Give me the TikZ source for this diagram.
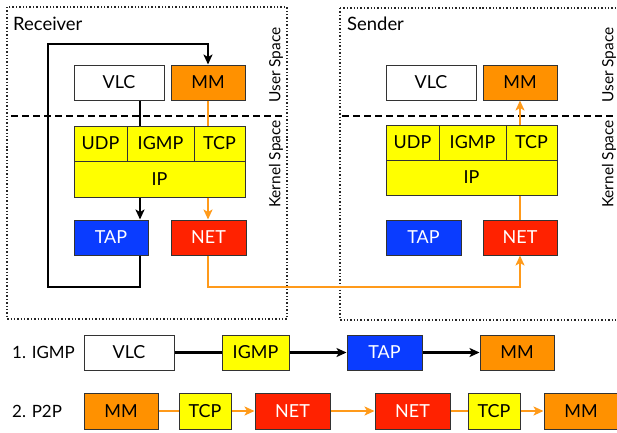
\documentclass[tikz,border=0pt]{standalone}
\usepackage{fontspec}
\setmainfont{Lato}
\usetikzlibrary{arrows.meta}
\definecolor{cyel}{HTML}{FFFF00}
\definecolor{corg}{HTML}{FF9100}
\definecolor{cblue}{HTML}{0A3CFF}
\definecolor{cred}{HTML}{FF2200}
\definecolor{cline}{HTML}{FF9A1A}
\begin{document}
\begin{tikzpicture}[x=1bp,y=-1bp,
  box/.style={draw=black!80, line width=1bp, inner sep=0pt, minimum height=35bp, font=\fontsize{18}{20}\selectfont, text=black},
  wl/.style={box, fill=white},
  yl/.style={box, fill=cyel},
  og/.style={box, fill=corg},
  bl/.style={box, fill=cblue, text=white},
  rd/.style={box, fill=cred, text=white},
  cont/.style={draw=black!85, line width=1.4bp, dotted},
  sep/.style={draw=black, line width=2.2bp, dash pattern=on 7bp off 4bp},
  blk/.style={draw=black, line width=2.5bp},
  org/.style={draw=cline, line width=2.5bp},
  tip/.style={-{Stealth[length=10bp,width=9bp,inset=2.5bp]}},
  ttl/.style={font=\fontsize{18.5}{20}\selectfont, anchor=west, inner sep=0pt},
  spc/.style={font=\fontsize{15.5}{17}\selectfont, rotate=90, inner sep=0pt},
  row/.style={font=\fontsize{17}{19}\selectfont, anchor=west, inner sep=0pt}]
\useasboundingbox (0,0) rectangle (617,432);
% containers
\draw[cont] (7,7) rectangle (287,319);
\draw[cont] (340,8) -- (630,8);
\draw[cont] (340,8) -- (340,320) -- (630,320);
\draw[sep] (11,116) -- (285,116);
\draw[sep] (342,116) -- (617,116);
\node[ttl] (trec) at (13,24) {Receiver};
\node[ttl] (tsnd) at (347,24) {Sender};
\node[spc] (us1) at (276,65) {User Space};
\node[spc] (ks1) at (276,164) {Kernel Space};
\node[spc] (us2) at (609,65) {User Space};
\node[spc] (ks2) at (609,164) {Kernel Space};
% receiver
\node[wl, minimum width=90bp] (VLCr) at (119,82.5) {VLC};
\node[og, minimum width=74bp] (MMr) at (208,82.5) {MM};
\node[yl, minimum width=53bp] (UDPr) at (100.5,143.5) {UDP};
\node[yl, minimum width=67bp] (IGMPr) at (160.5,143.5) {IGMP};
\node[yl, minimum width=51bp] (TCPr) at (219.5,143.5) {TCP};
\node[yl, minimum width=171bp, minimum height=36bp] (IPr) at (159.5,179) {IP};
\node[bl, minimum width=74bp] (TAPr) at (111,237.5) {TAP};
\node[rd, minimum width=75bp] (NETr) at (208.5,237.5) {NET};
% sender
\node[wl, minimum width=90bp] (VLCs) at (431,82.5) {VLC};
\node[og, minimum width=74bp] (MMs) at (520,82.5) {MM};
\node[yl, minimum width=53bp] (UDPs) at (412.5,142.5) {UDP};
\node[yl, minimum width=67bp] (IGMPs) at (472.5,142.5) {IGMP};
\node[yl, minimum width=51bp] (TCPs) at (531.5,142.5) {TCP};
\node[yl, minimum width=171bp] (IPs) at (471.5,177.5) {IP};
\node[bl, minimum width=75bp] (TAPs) at (423.5,237.5) {TAP};
\node[rd, minimum width=74bp] (NETs) at (520,237.5) {NET};
% receiver connectors
\coordinate (vx) at (140,0);
\coordinate (lb) at (48,287);
\coordinate (lt) at (48,44);
\draw[blk] (VLCr.south -| vx) -- (IGMPr.north -| vx);
\draw[blk, tip] (IPr.south -| vx) -- (TAPr.north -| vx);
\draw[blk, tip, line join=miter] (TAPr.south -| vx) -- (vx |- lb) -- (lb) -- (lt) -| (MMr.north);
\draw[org] (MMr.south) -- (MMr.south |- TCPr.north);
\draw[org, tip] (IPr.south -| MMr.south) -- (NETr.north -| MMr.south);
\draw[org, tip, line join=miter] (NETr.south -| MMr.south) -- (MMr.south |- lb) -| (NETs.south);
% sender connectors
\draw[org] (NETs.north) -- (NETs.north |- IPs.south);
\draw[org, tip] (TCPs.north -| MMs.south) -- (MMs.south);
% bottom rows
\node[row] (r1) at (12,352.5) {1. IGMP};
\node[row] (r2) at (12,411) {2. P2P};
\node[wl, minimum width=90bp] (aVLC) at (129,352.5) {VLC};
\node[yl, minimum width=67bp] (aIGMP) at (255.5,352.5) {IGMP};
\node[bl, minimum width=75bp] (aTAP) at (384.5,352.5) {TAP};
\node[og, minimum width=74bp] (aMM) at (517,352.5) {MM};
\draw[blk] (aVLC) -- (aIGMP);
\draw[blk, tip] (aIGMP) -- (aTAP);
\draw[blk, tip] (aTAP) -- (aMM);
\node[og, minimum width=74bp, minimum height=36bp] (bMM1) at (121,411) {MM};
\node[yl, minimum width=52bp, minimum height=36bp] (bTCP1) at (205,411) {TCP};
\node[rd, minimum width=75bp, minimum height=36bp] (bNET1) at (292.5,411) {NET};
\node[rd, minimum width=75bp, minimum height=36bp] (bNET2) at (412.5,411) {NET};
\node[yl, minimum width=52bp, minimum height=36bp] (bTCP2) at (494,411) {TCP};
\node[og, minimum width=74bp, minimum height=36bp] (bMM2) at (581,411) {MM};
\draw[org] (bMM1) -- (bTCP1);
\draw[org, tip] (bTCP1) -- (bNET1);
\draw[org, tip] (bNET1) -- (bNET2);
\draw[org] (bNET2) -- (bTCP2);
\draw[org, tip] (bTCP2) -- (bMM2);
\end{tikzpicture}
\end{document}
